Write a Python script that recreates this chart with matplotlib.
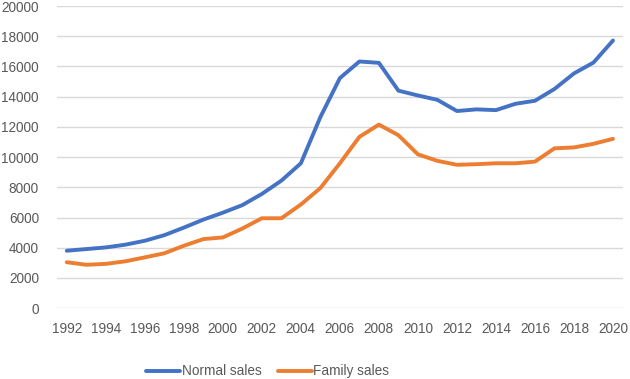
import matplotlib
matplotlib.use("Agg")
import matplotlib.pyplot as plt

years = list(range(1992, 2021))
normal_sales = [3800, 3910, 4020, 4200, 4460, 4830, 5330, 5860, 6320, 6820,
                7560, 8440, 9590, 12650, 15230, 16330, 16240, 14400, 14080, 13790,
                13050, 13160, 13110, 13530, 13730, 14510, 15540, 16260, 17720]
family_sales = [3040, 2870, 2930, 3100, 3360, 3630, 4130, 4570, 4680, 5270,
                5950, 5950, 6860, 7950, 9590, 11340, 12150, 11450, 10180, 9750,
                9490, 9530, 9590, 9590, 9700, 10580, 10640, 10880, 11210]
y_ticks = list(range(0, 20001, 2000))

plt.rcParams['font.family'] = ['Liberation Sans', 'DejaVu Sans']
text_color = '#595959'

fig = plt.figure(figsize=(6.3, 3.79), dpi=100)
ax = fig.add_axes([0.0905, 0.187, 0.898, 0.797])

ax.plot(years, normal_sales, color='#4472C4', lw=2.8, label='Normal sales', solid_capstyle='round')
ax.plot(years, family_sales, color='#ED7D31', lw=2.8, label='Family sales', solid_capstyle='round')

ax.set_xlim(1991.5, 2020.5)
ax.set_ylim(0, 20000)
ax.set_yticks(y_ticks)
ax.set_xticks(years[::2])
ax.grid(axis='y', color='#D9D9D9', lw=1)
ax.set_axisbelow(True)
for s in ax.spines.values():
    s.set_visible(False)
ax.tick_params(length=0, labelsize=9.8, colors=text_color)
ax.tick_params(axis='y', pad=13)
ax.tick_params(axis='x', pad=10)

fig.legend(loc='center', bbox_to_anchor=(0.425, 0.02), ncol=2, frameon=False,
           fontsize=9.8, labelcolor=text_color, handlelength=2.5, columnspacing=1.2,
           handletextpad=0.1, borderpad=0, borderaxespad=0)

fig.savefig('out.png', dpi=100)
